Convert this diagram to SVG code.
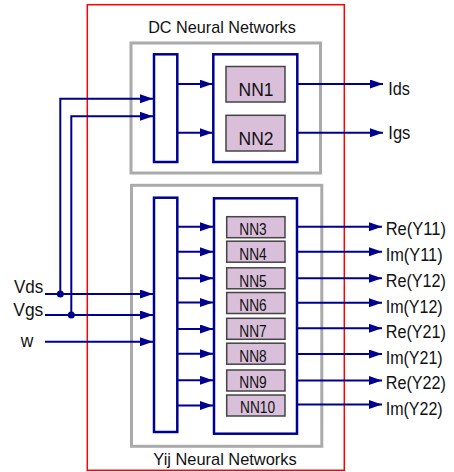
<svg xmlns="http://www.w3.org/2000/svg" width="454" height="472" viewBox="0 0 454 472">
<style>
text{font-family:"Liberation Sans",Arial,sans-serif;fill:#111}
.gray{fill:none;stroke:#aaaaaa;stroke-width:3}
.bar{fill:#fff;stroke:#000090;stroke-width:2.5}
.nn{fill:#d9bfd9;stroke:#444;stroke-width:1.5}
.c{fill:none;stroke:#000090;stroke-width:2}
.t16{font-size:17px}
.nt{font-size:16.5px;text-anchor:middle}
.lb{font-size:18px}
</style>
<defs>
<marker id="ah" markerUnits="userSpaceOnUse" markerWidth="13" markerHeight="10" refX="13" refY="4.5" orient="auto">
<path d="M0,0 L13,4.5 L0,9 z" fill="#000090"/>
</marker>
</defs>
<rect x="87.3" y="4.7" width="257" height="465.6" fill="none" stroke="#ff0000" stroke-width="1.5"/>
<g id="dc-group">
<rect class="gray" x="131" y="43" width="189.5" height="130"/>
<text class="t16" x="222" y="33.3" text-anchor="middle" textLength="147.7" lengthAdjust="spacingAndGlyphs">DC Neural Networks</text>
</g>
<g id="yij-group">
<rect class="gray" x="131.5" y="185.3" width="190.3" height="261"/>
<text class="t16" x="225" y="465" text-anchor="middle" textLength="143.4" lengthAdjust="spacingAndGlyphs">Yij Neural Networks</text>
</g>
<g id="connectors">
<path class="c" d="M60.3,294 V98.7 H153" marker-end="url(#ah)"/>
<path class="c" d="M71.3,315 V116.3 H153" marker-end="url(#ah)"/>
<path class="c" d="M45,294 H153" marker-end="url(#ah)"/>
<path class="c" d="M45,315 H153" marker-end="url(#ah)"/>
<path class="c" d="M45,341.7 H153" marker-end="url(#ah)"/>
<circle cx="60.3" cy="294" r="3.5" fill="#000090"/>
<circle cx="71.3" cy="315" r="3.5" fill="#000090"/>
<path class="c" d="M178,84 H212.5" marker-end="url(#ah)"/>
<path class="c" d="M178,132.7 H212.5" marker-end="url(#ah)"/>
<path class="c" d="M298,84 H383" marker-end="url(#ah)"/>
<path class="c" d="M298,132.7 H383" marker-end="url(#ah)"/>
<g stroke-width="1.6">
<path class="c" d="M178,226.7 H213" marker-end="url(#ah)"/>
<path class="c" d="M178,251.7 H213" marker-end="url(#ah)"/>
<path class="c" d="M178,278.3 H213" marker-end="url(#ah)"/>
<path class="c" d="M178,302.5 H213" marker-end="url(#ah)"/>
<path class="c" d="M178,329 H213" marker-end="url(#ah)"/>
<path class="c" d="M178,353.7 H213" marker-end="url(#ah)"/>
<path class="c" d="M178,380.3 H213" marker-end="url(#ah)"/>
<path class="c" d="M178,405.5 H213" marker-end="url(#ah)"/>
</g>
<path class="c" d="M297,226.7 H382" marker-end="url(#ah)"/>
<path class="c" d="M297,251.7 H382" marker-end="url(#ah)"/>
<path class="c" d="M297,278.3 H382" marker-end="url(#ah)"/>
<path class="c" d="M297,302.7 H382" marker-end="url(#ah)"/>
<path class="c" d="M297,328.3 H382" marker-end="url(#ah)"/>
<path class="c" d="M297,354 H382" marker-end="url(#ah)"/>
<path class="c" d="M297,380.5 H382" marker-end="url(#ah)"/>
<path class="c" d="M297,404.5 H382" marker-end="url(#ah)"/>
</g>
<g id="dc-input-bar"><rect class="bar" x="154" y="54.3" width="23.3" height="107.7"/></g>
<g id="dc-box"><rect class="bar" x="213.3" y="54.3" width="84" height="107.7"/></g>
<g id="nn1"><rect class="nn" x="226" y="66.5" width="59" height="35.5"/><text class="nt" x="256" y="96" textLength="35" lengthAdjust="spacingAndGlyphs" style="font-size:18.5px">NN1</text></g>
<g id="nn2"><rect class="nn" x="226" y="115.3" width="59" height="35.7"/><text class="nt" x="256" y="145" textLength="35" lengthAdjust="spacingAndGlyphs" style="font-size:18.5px">NN2</text></g>
<g id="yij-input-bar"><rect class="bar" x="154" y="197.7" width="23.3" height="234.3"/></g>
<g id="yij-box"><rect class="bar" x="214" y="198.3" width="83" height="235.4"/></g>
<g id="nn3"><rect class="nn" x="226.7" y="216.7" width="58.3" height="21"/><text class="nt" x="253" y="235" textLength="27.4" lengthAdjust="spacingAndGlyphs">NN3</text></g>
<g id="nn4"><rect class="nn" x="226.7" y="241.2" width="58.3" height="21"/><text class="nt" x="253" y="260" textLength="27.4" lengthAdjust="spacingAndGlyphs">NN4</text></g>
<g id="nn5"><rect class="nn" x="226.7" y="267.8" width="58.3" height="21"/><text class="nt" x="253" y="286.7" textLength="27.4" lengthAdjust="spacingAndGlyphs">NN5</text></g>
<g id="nn6"><rect class="nn" x="226.7" y="292.5" width="58.3" height="21"/><text class="nt" x="253" y="310.7" textLength="27.4" lengthAdjust="spacingAndGlyphs">NN6</text></g>
<g id="nn7"><rect class="nn" x="226.7" y="318.3" width="58.3" height="21"/><text class="nt" x="253" y="336.7" textLength="27.4" lengthAdjust="spacingAndGlyphs">NN7</text></g>
<g id="nn8"><rect class="nn" x="226.7" y="343.2" width="58.3" height="21"/><text class="nt" x="253" y="361.7" textLength="27.4" lengthAdjust="spacingAndGlyphs">NN8</text></g>
<g id="nn9"><rect class="nn" x="226.7" y="370" width="58.3" height="21"/><text class="nt" x="253" y="388.3" textLength="27.4" lengthAdjust="spacingAndGlyphs">NN9</text></g>
<g id="nn10"><rect class="nn" x="226.7" y="395" width="58.3" height="21"/><text class="nt" x="257.5" y="412.7" textLength="35" lengthAdjust="spacingAndGlyphs">NN10</text></g>
<g id="labels">
<text x="43.3" y="293.3" text-anchor="end" class="lb" textLength="29.3" lengthAdjust="spacingAndGlyphs">Vds</text>
<text x="43.3" y="316" text-anchor="end" class="lb" textLength="30" lengthAdjust="spacingAndGlyphs">Vgs</text>
<text x="27" y="346.7" text-anchor="middle" class="lb" textLength="12.6" lengthAdjust="spacingAndGlyphs">w</text>
<text x="388.3" y="95" class="lb" textLength="21.7" lengthAdjust="spacingAndGlyphs">Ids</text>
<text x="388.3" y="139" class="lb" textLength="22" lengthAdjust="spacingAndGlyphs">Igs</text>
<text x="385.7" y="235" class="lb" textLength="60.3" lengthAdjust="spacingAndGlyphs">Re(Y11)</text>
<text x="385.7" y="261" class="lb" textLength="57" lengthAdjust="spacingAndGlyphs">Im(Y11)</text>
<text x="385.7" y="287.3" class="lb" textLength="60.3" lengthAdjust="spacingAndGlyphs">Re(Y12)</text>
<text x="385.7" y="312.7" class="lb" textLength="57" lengthAdjust="spacingAndGlyphs">Im(Y12)</text>
<text x="385.7" y="338.3" class="lb" textLength="60.3" lengthAdjust="spacingAndGlyphs">Re(Y21)</text>
<text x="385.7" y="364" class="lb" textLength="57" lengthAdjust="spacingAndGlyphs">Im(Y21)</text>
<text x="385.7" y="389.3" class="lb" textLength="60.3" lengthAdjust="spacingAndGlyphs">Re(Y22)</text>
<text x="385.7" y="415" class="lb" textLength="57" lengthAdjust="spacingAndGlyphs">Im(Y22)</text>
</g>
</svg>
